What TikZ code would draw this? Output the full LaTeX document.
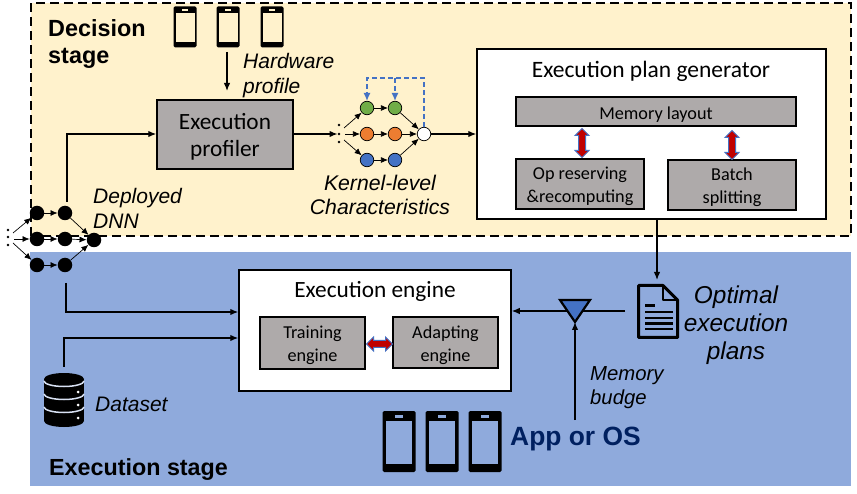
\documentclass[tikz,border=0pt]{standalone}
\usepackage{fontspec}
\setmainfont{Carlito}
\newfontfamily\arialfont{Liberation Sans}
\usetikzlibrary{arrows.meta,shapes.arrows,calc}
\definecolor{creamfill}{HTML}{FFF2CC}
\definecolor{bluefill}{HTML}{8FAADC}
\definecolor{boxgray}{HTML}{AEAAAA}
\definecolor{dotblue}{HTML}{4472C4}
\definecolor{dotgreen}{HTML}{70AD47}
\definecolor{dotorange}{HTML}{ED7D31}
\definecolor{appblue}{HTML}{002060}
\definecolor{redarrow}{HTML}{C00000}
\tikzset{
  graybox/.style={draw=black,line width=1.5pt,fill=boxgray,inner sep=0pt},
  whitebox/.style={draw=black,line width=1.5pt,fill=white,inner sep=0pt},
  blackdot/.style={circle,fill=black,inner sep=0pt,minimum size=14.5pt},
  kerneldot/.style={circle,draw=black,line width=.7pt,inner sep=0pt,minimum size=13.5pt},
  tinydot/.style={circle,fill=black,inner sep=0pt,minimum size=2.6pt},
  note/.style={font=\arialfont\itshape,align=center,inner sep=0pt},
  flow/.style={-{Latex[length=8pt,width=6.5pt]},line width=1.3pt,black},
  thin flow/.style={-{Latex[length=7pt,width=6pt]},line width=.7pt,black},
  loopback/.style={-{Latex[length=8pt,width=7pt]},line width=1.2pt,dotblue,dash pattern=on 5pt off 3pt},
  bothways/.style={double arrow,draw=dotblue,line width=1pt,fill=redarrow,inner sep=3pt,minimum width=14pt,
    double arrow head extend=3.5pt,minimum height=29pt},
}
\newcommand{\boxtext}[2]{\raisebox{\dimexpr-2.5pt-.25em}[0pt][0pt]{\parbox{#1}{\centering #2}}}
\newcommand{\phoneicon}[7]{%
  \node[fill=black,rounded corners=1.5pt,minimum width=#4pt,minimum height=#5pt,inner sep=0pt] (#1) at (#2,#3) {};
  \fill[#6] ($(#1.north west)+(#7pt,-.16*#5pt)$) rectangle ($(#1.south east)+(-#7pt,.13*#5pt)$);
  \fill[#6] ($(#1.north)+(-.12*#4pt,-.07*#5pt)$) rectangle ($(#1.north)+(.12*#4pt,-.11*#5pt)$);
}
\begin{document}
\begin{tikzpicture}[x=1pt,y=-1pt]
  \useasboundingbox (0,0) rectangle (857,494);
  \fill[creamfill] (31,3) rectangle (851,236);
  \fill[bluefill] (30,252) rectangle (851,486);
  \draw[black,line width=2.4pt,dash pattern=on 9pt off 5pt] (31,236) -- (31,3) -- (851,3) -- (851,236) -- cycle;
  \node[font=\arialfont\bfseries\fontsize{23.4}{27}\selectfont,align=left,anchor=west,inner sep=0pt] (decision) at (48,44.5) {Decision\\stage};
  \node[font=\arialfont\bfseries\fontsize{23.3}{25}\selectfont,anchor=west,inner sep=0pt] (execstage) at (49,470) {Execution stage};
  % phones
  \phoneicon{hwa}{185}{27}{23}{41}{creamfill}{2.2}
  \phoneicon{hwb}{228}{27}{23}{41}{creamfill}{2.2}
  \phoneicon{hwc}{272}{27}{23}{41}{creamfill}{2.2}
  \phoneicon{osa}{399}{441.5}{33}{61}{bluefill}{3.5}
  \phoneicon{osb}{442}{441.5}{33}{61}{bluefill}{3.5}
  \phoneicon{osc}{485}{441.5}{33}{61}{bluefill}{3.5}
  % profiler
  \node[graybox,minimum width=136pt,minimum height=69pt,font=\fontsize{23.3}{27}\selectfont] (profiler) at (225,134.5) {\boxtext{120pt}{Execution\\profiler}};
  \coordinate (hwout) at (227,52);
  \coordinate (hwin) at (227,91);
  \draw[flow] (hwout) -- (hwin);
  \node[note,anchor=west,align=left,font=\arialfont\itshape\fontsize{21}{25}\selectfont] (hwlabel) at (243,76) {Hardware\\profile};
  % deployed dnn
  \node[blackdot] (da) at (37,213) {};
  \node[blackdot] (db) at (65,213) {};
  \node[blackdot] (dc) at (37,239) {};
  \node[blackdot] (dd) at (65,239) {};
  \node[blackdot] (de) at (94,240) {};
  \node[blackdot] (df) at (37,265) {};
  \node[blackdot] (dg) at (65,265) {};
  \node[tinydot] (dnndota) at (8,230) {};
  \node[tinydot] (dnndotb) at (8,237) {};
  \node[tinydot] (dnndotc) at (8,245) {};
  \coordinate (dnnina) at (13,233);
  \coordinate (dnninb) at (14,239);
  \coordinate (dnninc) at (13,243);
  \draw[thin flow] (dnnina) -- (da);
  \draw[thin flow] (dnninb) -- (dc);
  \draw[thin flow] (dnninc) -- (df);
  \draw[thin flow] (da) -- (db);
  \draw[thin flow] (dc) -- (dd);
  \draw[thin flow] (df) -- (dg);
  \draw[thin flow] (db) -- (de);
  \draw[thin flow] (dd) -- (de);
  \draw[thin flow] (dg) -- (de);
  \node[note,anchor=west,align=left,font=\arialfont\itshape\fontsize{21}{25}\selectfont] (dnnlabel) at (93,208.5) {Deployed\\DNN};
  \coordinate (dnnup) at (67,202);
  \draw[flow] (dnnup) |- (profiler.west |- 0,134);
  % kernel graph
  \node[tinydot] (kdota) at (339,125) {};
  \node[tinydot] (kdotb) at (339,134) {};
  \node[tinydot] (kdotc) at (339,142) {};
  \coordinate (kina) at (344,128);
  \coordinate (kinb) at (345,134);
  \coordinate (kinc) at (344,140);
  \node[kerneldot,fill=dotgreen] (ka) at (367,108) {};
  \node[kerneldot,fill=dotgreen] (kb) at (395,108) {};
  \node[kerneldot,fill=dotorange] (kc) at (367,134) {};
  \node[kerneldot,fill=dotorange] (kd) at (395,134) {};
  \node[kerneldot,fill=dotblue] (ke) at (367,160) {};
  \node[kerneldot,fill=dotblue] (kf) at (395,160) {};
  \node[kerneldot,fill=white] (kg) at (424,134) {};
  \draw[thin flow] (kina) -- (ka);
  \draw[thin flow] (kinb) -- (kc);
  \draw[thin flow] (kinc) -- (ke);
  \draw[thin flow] (ka) -- (kb);
  \draw[thin flow] (kc) -- (kd);
  \draw[thin flow] (ke) -- (kf);
  \draw[thin flow] (kb) -- (kg);
  \draw[thin flow] (kd) -- (kg);
  \draw[thin flow] (kf) -- (kg);
  \draw[loopback] (kg.north) -- (424,78) -- (367,78) -- (ka.north);
  \draw[loopback] (395,78) -- (kb.north);
  \draw[flow] (profiler.east |- kdotb) -- (kdotb.west);
  \node[note,font=\arialfont\itshape\fontsize{21.2}{24}\selectfont] (klabel) at (380,195) {Kernel-level\\Characteristics};
  % plan generator
  \node[whitebox,minimum width=349pt,minimum height=170pt] (generator) at (651.5,134) {};
  \draw[flow] (kg.east) -- (generator.west |- kg);
  \node[font=\fontsize{23.5}{25}\selectfont,inner sep=0pt] (gentitle) at (651,71) {Execution plan generator};
  \node[graybox,minimum width=280pt,minimum height=29pt,font=\fontsize{18.2}{20}\selectfont] (layout) at (656,111.5) {\boxtext{200pt}{Memory layout}};
  \node[graybox,minimum width=128pt,minimum height=50pt,font=\fontsize{18.2}{23}\selectfont] (reserving) at (580,184) {\boxtext{120pt}{Op reserving\\\&recomputing}};
  \node[graybox,minimum width=128pt,minimum height=50pt,font=\fontsize{18.2}{23}\selectfont] (splitting) at (732,185) {\boxtext{120pt}{Batch\\splitting}};
  \node[bothways,rotate=90] (layoutop) at (582,143) {};
  \node[bothways,rotate=90] (layoutbatch) at (732,145) {};
  % plans
  \begin{scope}[shift={(637,284)}]
    \draw[black,line width=3pt,line join=round] (1.5,1.5) -- (26,1.5) -- (40.5,16) -- (40.5,53.5) -- (1.5,53.5) -- cycle;
    \draw[black,line width=2.6pt,line join=round] (26,1.5) -- (26,16) -- (40.5,16);
    \foreach \yy in {28,34,39.5,45} {\draw[black,line width=2.4pt] (8,\yy) -- (36,\yy);}
    \draw[black,line width=2.4pt] (8,21.5) -- (18,21.5);
  \end{scope}
  \coordinate (planin) at (657,280);
  \coordinate (planout) at (625,311);
  \draw[flow] (generator.south -| planin) -- (planin);
  \node[note,font=\arialfont\itshape\fontsize{24.4}{28}\selectfont] (planlabel) at (736,325) {Optimal\\execution\\plans};
  % execution engine
  \node[whitebox,minimum width=272pt,minimum height=121pt] (engine) at (375,330.5) {};
  \node[font=\fontsize{23.3}{25}\selectfont,inner sep=0pt] (enginetitle) at (375,291) {Execution engine};
  \node[graybox,minimum width=105pt,minimum height=52pt,font=\fontsize{18.2}{23}\selectfont] (training) at (312.5,343) {\boxtext{100pt}{Training\\engine}};
  \node[graybox,minimum width=105pt,minimum height=51pt,font=\fontsize{18.2}{23}\selectfont] (adapting) at (445.5,342.5) {\boxtext{100pt}{Adapting\\engine}};
  \node[bothways,minimum height=26pt] (trainadapt) at (379.5,344) {};
  % dataset
  \begin{scope}[shift={(64,373)}]
    \fill[black] (0,6) ellipse (20 and 6);
    \fill[black] (-20,6) rectangle (20,48);
    \fill[black] (0,48) ellipse (20 and 6);
    \foreach \yy in {8,21,34} {
      \draw[bluefill!35!white,line width=1.5pt] (-20,\yy) arc[start angle=180,end angle=360,x radius=20pt,y radius=5.5pt];
      \fill[white] (14,\yy+11) circle (1.5);
    }
  \end{scope}
  \coordinate (dataout) at (64,367);
  \coordinate (dnnout) at (66,283);
  \draw[flow] (dnnout) |- (engine.west |- 0,312);
  \draw[flow] (dataout) |- (engine.west |- 0,338);
  \node[note,anchor=west,font=\arialfont\itshape\fontsize{21}{22}\selectfont] (datalabel) at (95,404) {Dataset};
  % budget
  \path (560,300) coordinate (tria) (590,300) coordinate (trib) (575,322) coordinate (tric);
  \draw[flow] (planout) -- (engine.east |- planout);
  \draw[black,line width=2.2pt,fill=dotblue,line join=miter] (tria) -- (trib) -- (tric) -- cycle;
  \coordinate (osout) at (575,420);
  \draw[flow] (osout) -- (tric);
  \node[note,anchor=west,align=left,font=\arialfont\itshape\fontsize{20.3}{24}\selectfont] (budgetlabel) at (590,388) {Memory\\budge};
  \node[anchor=west,inner sep=0pt,text=appblue,font=\arialfont\bfseries\fontsize{26.4}{28}\selectfont] (oslabel) at (510,439) {App or OS};
\end{tikzpicture}
\end{document}
